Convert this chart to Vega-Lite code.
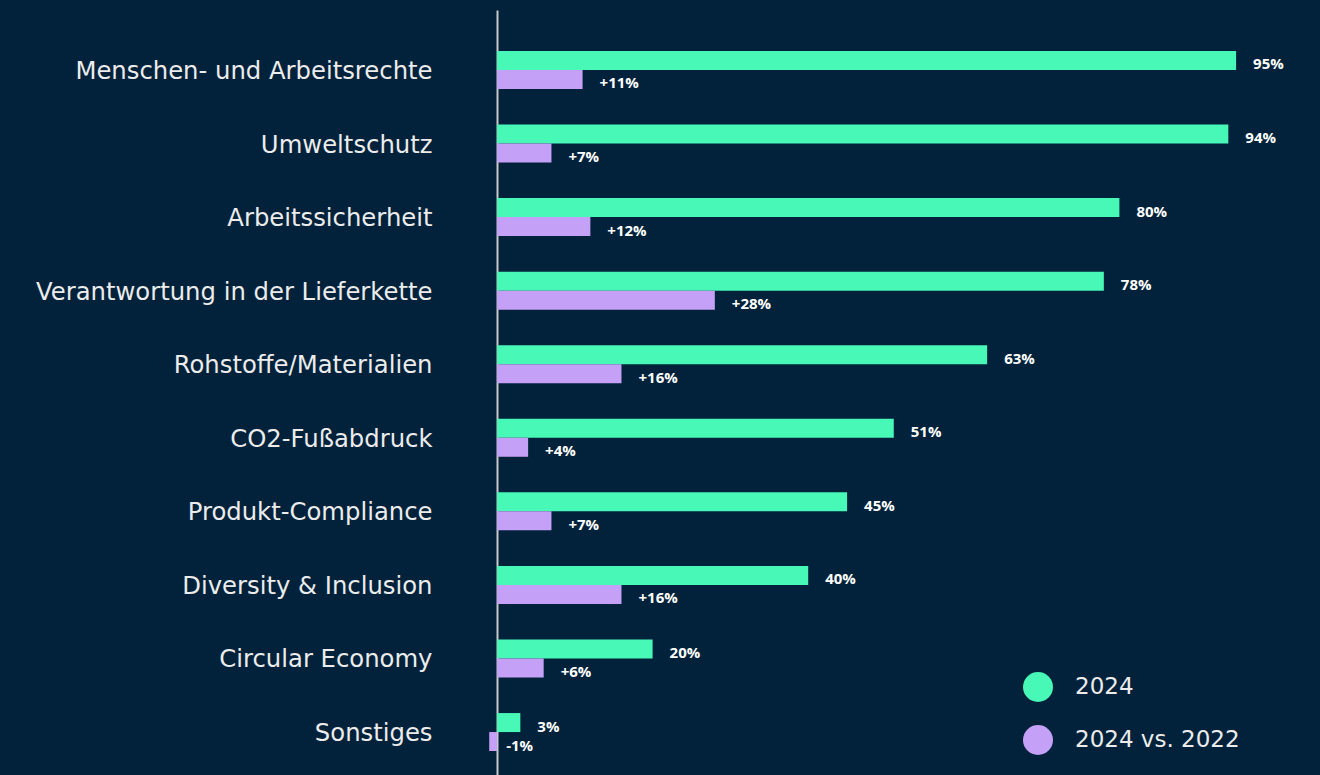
{
  "$schema": "https://vega.github.io/schema/vega-lite/v6.json",
  "autosize": "none",
  "padding": {"left": 497, "top": 10, "right": 45, "bottom": 0},
  "width": 778,
  "height": 782,
  "background": "#01223a",
  "config": {"view": {"stroke": null}, "font": "DejaVu Sans"},
  "data": {"values": [
    {"category": "Menschen- und Arbeitsrechte", "series": "2024", "value": 95, "label": "95%"},
    {"category": "Menschen- und Arbeitsrechte", "series": "2024 vs. 2022", "value": 11, "label": "+11%"},
    {"category": "Umweltschutz", "series": "2024", "value": 94, "label": "94%"},
    {"category": "Umweltschutz", "series": "2024 vs. 2022", "value": 7, "label": "+7%"},
    {"category": "Arbeitssicherheit", "series": "2024", "value": 80, "label": "80%"},
    {"category": "Arbeitssicherheit", "series": "2024 vs. 2022", "value": 12, "label": "+12%"},
    {"category": "Verantwortung in der Lieferkette", "series": "2024", "value": 78, "label": "78%"},
    {"category": "Verantwortung in der Lieferkette", "series": "2024 vs. 2022", "value": 28, "label": "+28%"},
    {"category": "Rohstoffe/Materialien", "series": "2024", "value": 63, "label": "63%"},
    {"category": "Rohstoffe/Materialien", "series": "2024 vs. 2022", "value": 16, "label": "+16%"},
    {"category": "CO2-Fußabdruck", "series": "2024", "value": 51, "label": "51%"},
    {"category": "CO2-Fußabdruck", "series": "2024 vs. 2022", "value": 4, "label": "+4%"},
    {"category": "Produkt-Compliance", "series": "2024", "value": 45, "label": "45%"},
    {"category": "Produkt-Compliance", "series": "2024 vs. 2022", "value": 7, "label": "+7%"},
    {"category": "Diversity & Inclusion", "series": "2024", "value": 40, "label": "40%"},
    {"category": "Diversity & Inclusion", "series": "2024 vs. 2022", "value": 16, "label": "+16%"},
    {"category": "Circular Economy", "series": "2024", "value": 20, "label": "20%"},
    {"category": "Circular Economy", "series": "2024 vs. 2022", "value": 6, "label": "+6%"},
    {"category": "Sonstiges", "series": "2024", "value": 3, "label": "3%"},
    {"category": "Sonstiges", "series": "2024 vs. 2022", "value": -1, "label": "-1%"}
  ]},
  "encoding": {
    "y": {
      "field": "category", "type": "nominal", "sort": null,
      "scale": {"paddingInner": 0.484, "paddingOuter": 0.557},
      "axis": {"title": null, "ticks": false, "labelPadding": 65, "labelLimit": 0, "labelFontSize": 24.3, "labelOffset": 2, "labelColor": "#ececec", "labelFont": "DejaVu Sans", "domainColor": "#c8c8c8", "domainWidth": 2}
    },
    "yOffset": {"field": "series", "type": "nominal", "scale": {"domain": ["2024", "2024 vs. 2022"], "paddingInner": 0, "paddingOuter": 0}},
    "x": {"field": "value", "type": "quantitative", "scale": {"domain": [0, 100], "nice": false, "zero": true}, "axis": null}
  },
  "layer": [
    {
      "mark": {"type": "bar", "cornerRadius": 0},
      "encoding": {
        "color": {
          "field": "series", "type": "nominal",
          "scale": {"domain": ["2024", "2024 vs. 2022"], "range": ["#48f8b7", "#c4a1f6"]},
          "legend": {"title": null, "orient": "none", "legendX": 526, "legendY": 662, "symbolType": "circle", "symbolSize": 900, "symbolStrokeWidth": 0, "symbolOpacity": 1, "labelFontSize": 23, "labelColor": "#ececec", "labelFont": "DejaVu Sans", "labelOffset": 22, "rowPadding": 23, "padding": 0, "labelLimit": 0}
        }
      }
    },
    {
      "mark": {"type": "text", "align": "left", "baseline": "middle", "dx": 17, "dy": 4, "fontSize": 15, "fontWeight": "bold", "font": "Open Sans", "color": "#ffffff"},
      "encoding": {"text": {"field": "label", "type": "nominal"}}
    }
  ]
}
